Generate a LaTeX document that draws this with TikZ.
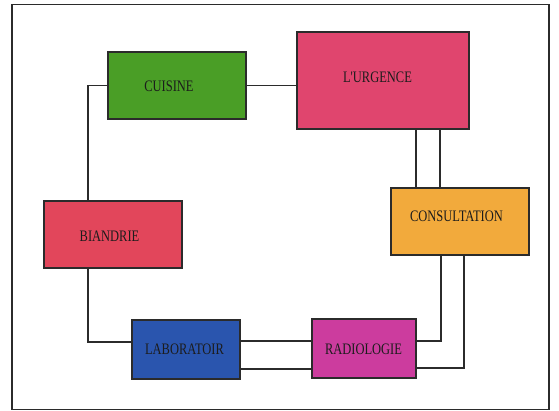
\documentclass[tikz,border=0pt]{standalone}
\usepackage{fontspec}
\setmainfont{Liberation Serif}
\newfontfamily\boxfont[FakeStretch=0.78]{Liberation Serif}
\definecolor{cuisinec}{HTML}{4A9E26}
\definecolor{urgencec}{HTML}{E0456E}
\definecolor{consultc}{HTML}{F2AA3C}
\definecolor{biandriec}{HTML}{E2465B}
\definecolor{laboc}{HTML}{2A55AE}
\definecolor{radioc}{HTML}{CC3C9E}
\definecolor{inkc}{HTML}{2B2B2B}
\definecolor{namec}{HTML}{1C1C1C}
\tikzset{
  room/.style={draw=inkc, line width=1.4pt, inner sep=0pt, rectangle},
  roomname/.style={text=namec, font=\boxfont\fontsize{16}{16}\selectfont, inner sep=0pt},
  link/.style={draw=inkc, line width=1.1pt},
  frame/.style={draw=inkc, line width=1.5pt}
}
\begin{document}
\begin{tikzpicture}[x=1pt, y=-1pt]
\useasboundingbox (0,0) rectangle (559,410);
\draw[frame] (11.8,4.3) rectangle (549,409.5);

% rooms
\node[room, fill=cuisinec,  minimum width=138pt, minimum height=67pt] (cuisine) at (177,85.5) {};
\node[room, fill=urgencec,  minimum width=172pt, minimum height=97pt] (urgence) at (383,80.5) {};
\node[room, fill=consultc,  minimum width=138pt, minimum height=67pt] (consult) at (460,221.5) {};
\node[room, fill=biandriec, minimum width=138pt, minimum height=67pt] (biandrie) at (113,234.5) {};
\node[room, fill=laboc,     minimum width=108pt, minimum height=59pt] (labo) at (186,349.5) {};
\node[room, fill=radioc,    minimum width=104pt, minimum height=59pt] (radio) at (364,348.5) {};

% room names
\node[roomname] (tcuisine)  at (169,86)    {CUISINE};
\node[roomname] (turgence)  at (377.5,77.5) {L'URGENCE};
\node[roomname] (tconsult)  at (456.5,216.5) {CONSULTATION};
\node[roomname] (tbiandrie) at (109.5,236.5) {BIANDRIE};
\node[roomname] (tlabo)     at (184.5,349) {LABORATOIR};
\node[roomname] (tradio)    at (363.5,349) {RADIOLOGIE};

% connection points
\coordinate (bTop) at ([xshift=-25pt]biandrie.north);
\coordinate (bBot) at ([xshift=-25pt]biandrie.south);
\coordinate (labIn) at ([yshift=7.5pt]labo.west);
\coordinate (uA) at ([xshift=33pt]urgence.south);
\coordinate (uB) at ([xshift=57pt]urgence.south);
\coordinate (cA) at ([xshift=-19pt]consult.south);
\coordinate (cB) at ([xshift=4pt]consult.south);
\coordinate (rA) at ([yshift=7.5pt]radio.east);
\coordinate (rB) at ([yshift=-19.5pt]radio.east);
\coordinate (lA) at ([yshift=8.5pt]labo.east);
\coordinate (lB) at ([yshift=-19.5pt]labo.east);

% corridors
\draw[link] (cuisine.east) -- (cuisine.east -| urgence.west);
\draw[link] (cuisine.west) -| (bTop);
\draw[link] (bBot) |- (labIn);
\draw[link] (uA) -- (uA |- consult.north);
\draw[link] (uB) -- (uB |- consult.north);
\draw[link] (cA) |- (rA);
\draw[link] (cB) |- (rB);
\draw[link] (lA) -- (lA -| radio.west);
\draw[link] (lB) -- (lB -| radio.west);
\end{tikzpicture}
\end{document}
